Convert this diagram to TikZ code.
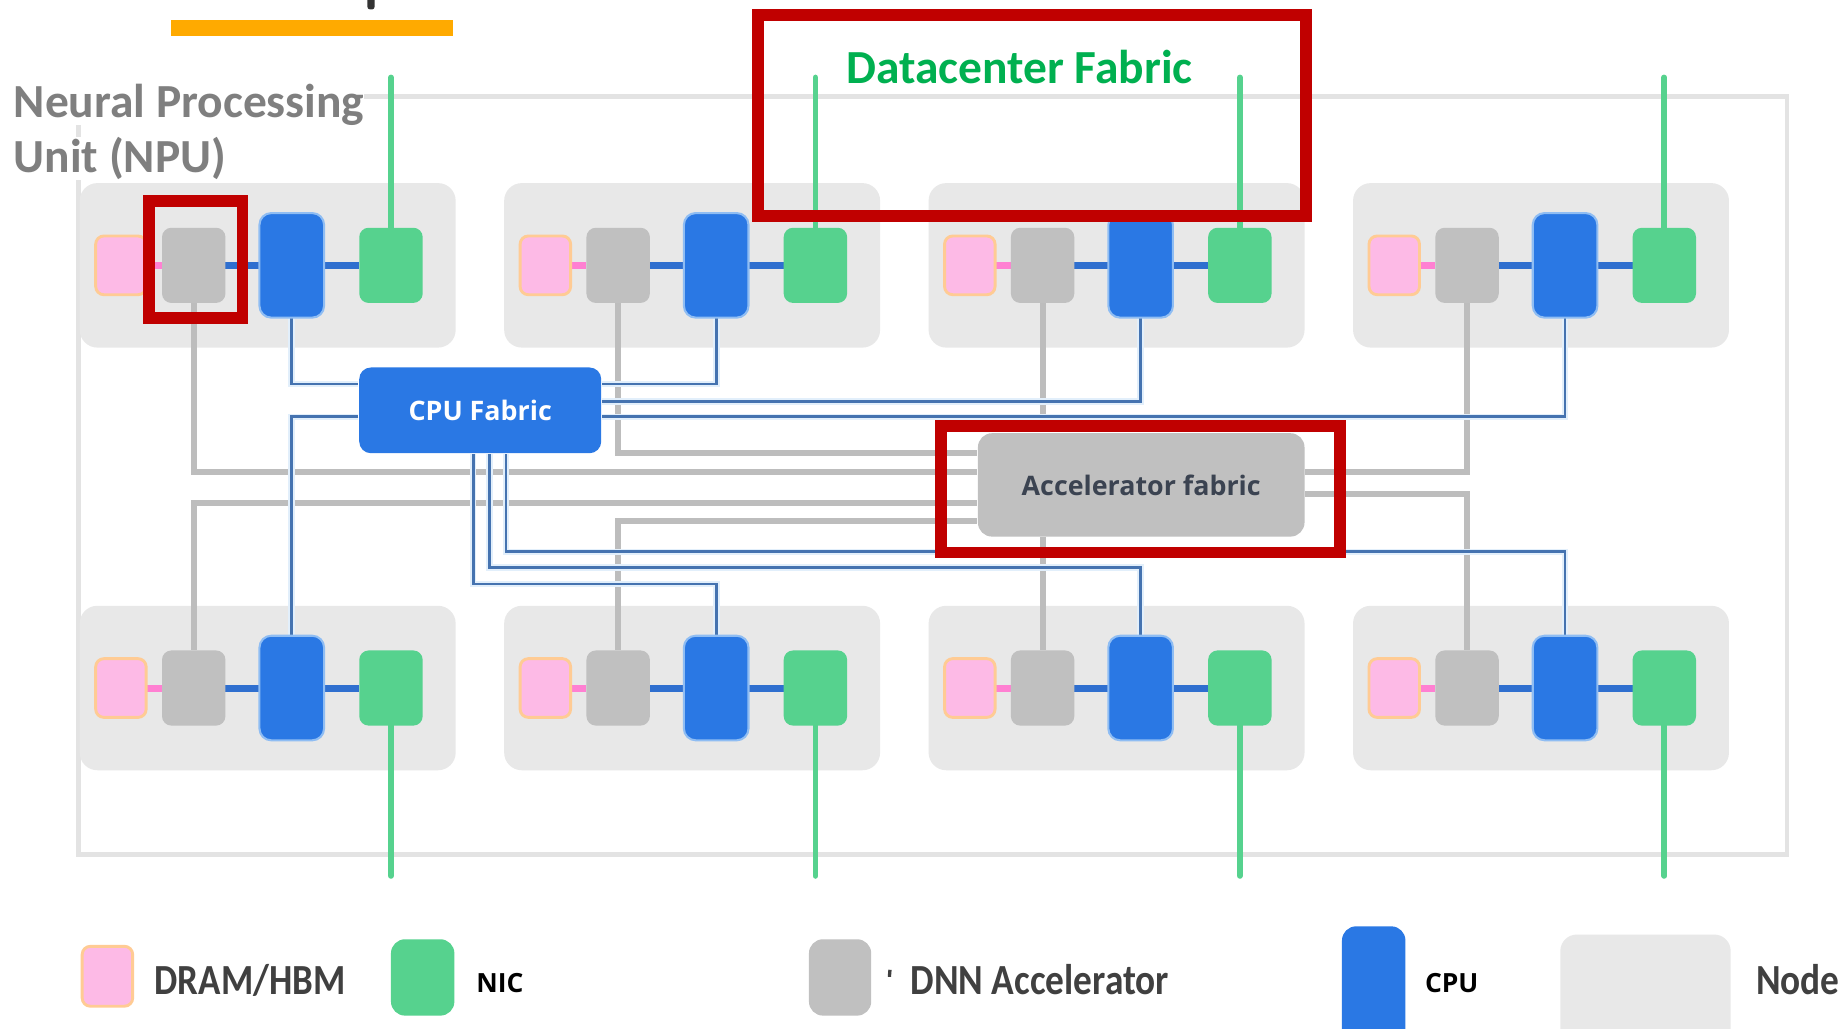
\documentclass[tikz,border=0pt]{standalone}
\usepackage{fontspec}
\setmainfont{Carlito}
\newfontfamily\uisans{Open Sans}
\definecolor{nodegray}{HTML}{E8E8E8}
\definecolor{framegray}{HTML}{E3E3E3}
\definecolor{dramfill}{HTML}{FDBAE6}
\definecolor{dramedge}{HTML}{FFCB94}
\definecolor{accgray}{HTML}{C0C0C0}
\definecolor{cpublue}{HTML}{2A78E4}
\definecolor{cpuedge}{HTML}{8FBDF3}
\definecolor{nicgreen}{HTML}{56D28E}
\definecolor{pinklink}{HTML}{FF80D2}
\definecolor{busblue}{HTML}{2F6FCF}
\definecolor{wireblue}{HTML}{4573B0}
\definecolor{wirehalo}{HTML}{E2EFFB}
\definecolor{wiregray}{HTML}{BDBDBD}
\definecolor{hlred}{HTML}{C00000}
\definecolor{barorange}{HTML}{FFAA00}
\definecolor{titlegray}{HTML}{7F7F7F}
\definecolor{dcgreen}{HTML}{00B050}
\definecolor{legendtext}{HTML}{404040}
\definecolor{acctext}{HTML}{3B4351}
\pgfdeclarelayer{back}
\pgfdeclarelayer{wires}
\pgfsetlayers{back,wires,main}
\begin{document}
\begin{tikzpicture}[x=0.01cm, y=-0.01cm,
  nodebg/.style={fill=nodegray, rounded corners=0.15cm, inner sep=0, minimum width=3.2cm, minimum height=1.4cm},
  part/.style={inner sep=0, outer sep=0, rounded corners=0.08cm},
  dram/.style={part, fill=dramfill, draw=dramedge, line width=0.7pt, minimum width=0.43cm, minimum height=0.5cm, rounded corners=0.07cm},
  accel/.style={part, fill=accgray, minimum width=0.54cm, minimum height=0.64cm},
  cpu/.style={part, fill=cpublue, draw=cpuedge, line width=0.5pt, minimum width=0.55cm, minimum height=0.89cm, rounded corners=0.1cm},
  nic/.style={part, fill=nicgreen, minimum width=0.54cm, minimum height=0.64cm},
  ddrlink/.style={draw=pinklink, line width=1.7pt},
  buslink/.style={draw=busblue, line width=1.7pt},
  uplink/.style={draw=nicgreen, line width=1.4pt, line cap=round},
  cpuwire/.style={draw=wireblue, line width=0.65pt, preaction={draw=wirehalo, line width=1.6pt}},
  accwire/.style={draw=wiregray, line width=1.45pt},
  fabric/.style={inner sep=0, rounded corners=0.1cm, font=\uisans\bfseries\fontsize{6.5}{7}\selectfont},
  hlbox/.style={draw=hlred, line width=2.85pt, inner sep=0},
  legtext/.style={anchor=base west, inner sep=0, text=legendtext, font=\bfseries\fontsize{10.4}{12}\selectfont},
  legbold/.style={anchor=base west, inner sep=0, text=black, font=\uisans\bfseries\fontsize{6.4}{8}\selectfont},
  titletext/.style={anchor=base west, inner sep=0, font=\bfseries\fontsize{11.5}{14}\selectfont},
]
\useasboundingbox (0,0) rectangle (1568,876);
\begin{pgfonlayer}{back}
  \fill[white] (0,0) rectangle (1568,876);
  % outer system frame
  \draw[framegray, line width=1.15pt] (67,82) rectangle (1522,728);
\end{pgfonlayer}

% title remnants
\fill[barorange] (146,17) rectangle (386,31);
\fill[black!80, rounded corners=0.02cm] (313,-5) rectangle (319,8);

% the eight nodes: DRAM, accelerator, CPU and NIC
\foreach \i in {0,1,2,3}{
  \foreach \r/\yc in {t/226,b/586}{
    \pgfmathsetmacro{\dx}{361.5*\i}
    \begin{pgfonlayer}{back}
      \node[nodebg] (\r\i-bg) at (228+\dx,\yc) {};
    \end{pgfonlayer}
    \node[dram]  (\r\i-dram) at (103+\dx,\yc) {};
    \node[accel] (\r\i-acc)  at (165+\dx,\yc) {};
    \node[cpu]   (\r\i-cpu)  at (248.5+\dx,\yc) {};
    \node[nic]   (\r\i-nic)  at (333+\dx,\yc) {};
    \begin{pgfonlayer}{wires}
      \draw[ddrlink] (\r\i-dram.east) -- (\r\i-acc.west);
      \draw[buslink] (\r\i-acc.east) -- (\r\i-nic.west);
    \end{pgfonlayer}
  }
}

% NIC uplinks to the datacenter fabric
\foreach \i in {0,1,2,3}{
  \pgfmathsetmacro{\dx}{361.5*\i}
  \coordinate (dcT\i) at (333+\dx,66);
  \coordinate (dcB\i) at (333+\dx,746);
  \begin{pgfonlayer}{wires}
    \draw[uplink] (t\i-nic.north) -- (dcT\i);
    \draw[uplink] (b\i-nic.south) -- (dcB\i);
  \end{pgfonlayer}
}

% fabrics
\node[fabric, fill=cpublue, text=white, minimum width=2.06cm, minimum height=0.73cm] (cpuF) at (409,349.5) {CPU Fabric};
\node[fabric, fill=accgray, text=acctext, minimum width=2.78cm, minimum height=0.88cm, rounded corners=0.12cm] (accF) at (972,413) {Accelerator fabric};

% wiring levels
\coordinate (ya) at (0,402);
\coordinate (yb) at (0,386);
\coordinate (ye) at (0,428);
\coordinate (yf) at (0,444);
\coordinate (yh) at (0,421);
\coordinate (y1) at (0,327);
\coordinate (y2) at (0,342);
\coordinate (y3) at (0,355);
\coordinate (y6) at (0,470);
\coordinate (y7) at (0,483.5);
\coordinate (y8) at (0,497.5);
\coordinate (x6) at (431,0);
\coordinate (x7) at (417,0);
\coordinate (x8) at (403,0);

\begin{pgfonlayer}{wires}
  % accelerator fabric links
  \draw[accwire] (t0-acc.south) |- (accF.west |- ya);
  \draw[accwire] (t1-acc.south) |- (accF.west |- yb);
  \draw[accwire] (t2-acc.south) -- (t2-acc.south |- accF.north);
  \draw[accwire] (t3-acc.south) |- (accF.east |- ya);
  \draw[accwire] (b0-acc.north) |- (accF.west |- ye);
  \draw[accwire] (b1-acc.north) |- (accF.west |- yf);
  \draw[accwire] (b2-acc.north) -- (b2-acc.north |- accF.south);
  \draw[accwire] (b3-acc.north) |- (accF.east |- yh);
  % CPU fabric links
  \draw[cpuwire] (t0-cpu.south) |- (cpuF.west |- y1);
  \draw[cpuwire] (cpuF.east |- y1) -| (t1-cpu.south);
  \draw[cpuwire] (cpuF.east |- y2) -| (t2-cpu.south);
  \draw[cpuwire] (cpuF.east |- y3) -| (t3-cpu.south);
  \draw[cpuwire] (cpuF.west |- y3) -| (b0-cpu.north);
  \draw[cpuwire] (cpuF.south -| x6) |- (b3-cpu.north |- y6) -- (b3-cpu.north);
  \draw[cpuwire] (cpuF.south -| x7) |- (b2-cpu.north |- y7) -- (b2-cpu.north);
  \draw[cpuwire] (cpuF.south -| x8) |- (b1-cpu.north |- y8) -- (b1-cpu.north);
\end{pgfonlayer}

% labels
\node[titletext, fill=white, text=titlegray] (npuA) at (11,100) {Neural Processing};
\node[titletext, fill=white, text=titlegray] (npuB) at (11,147) {Unit (NPU)};
\node[titletext, text=dcgreen] (dcLabel) at (720,71) {Datacenter Fabric};

% highlight boxes
\node[hlbox, minimum width=4.665cm, minimum height=1.71cm] (dcBox) at (878.75,98.5) {};
\node[hlbox, minimum width=0.795cm, minimum height=0.995cm] (npuBox) at (166.75,220.75) {};
\node[hlbox, minimum width=3.395cm, minimum height=1.075cm] (accBox) at (971.25,416.75) {};

% legend
\node[part, fill=dramfill, draw=dramedge, line width=0.7pt, minimum width=0.43cm, minimum height=0.51cm, rounded corners=0.07cm] (kDram) at (91.5,831.5) {};
\node[legtext] (kDramT) at (131,847) {\scalebox{0.86}[1]{DRAM/HBM}};
\node[part, fill=nicgreen, minimum width=0.54cm, minimum height=0.65cm, rounded corners=0.12cm] (kNic) at (360,832.5) {};
\node[legbold] (kNicT) at (405,845) {NIC};
\node[part, fill=accgray, minimum width=0.53cm, minimum height=0.65cm, rounded corners=0.12cm] (kAcc) at (715.5,832.5) {};
\draw[legendtext, line width=0.8pt] (758,826) -- (757.5,832);
\node[legtext] (kAccT) at (775,847) {\scalebox{0.87}[1]{DNN Accelerator}};
\node[part, fill=cpublue, minimum width=0.54cm, minimum height=1.0cm, rounded corners=0.12cm] (kCpu) at (1170,839) {};
\node[legbold] (kCpuT) at (1213,845) {CPU};
\node[part, fill=nodegray, minimum width=1.45cm, minimum height=0.95cm, rounded corners=0.14cm] (kNode) at (1401.5,843.5) {};
\node[legtext] (kNodeT) at (1495,847) {\scalebox{0.87}[1]{Node}};
\end{tikzpicture}
\end{document}
